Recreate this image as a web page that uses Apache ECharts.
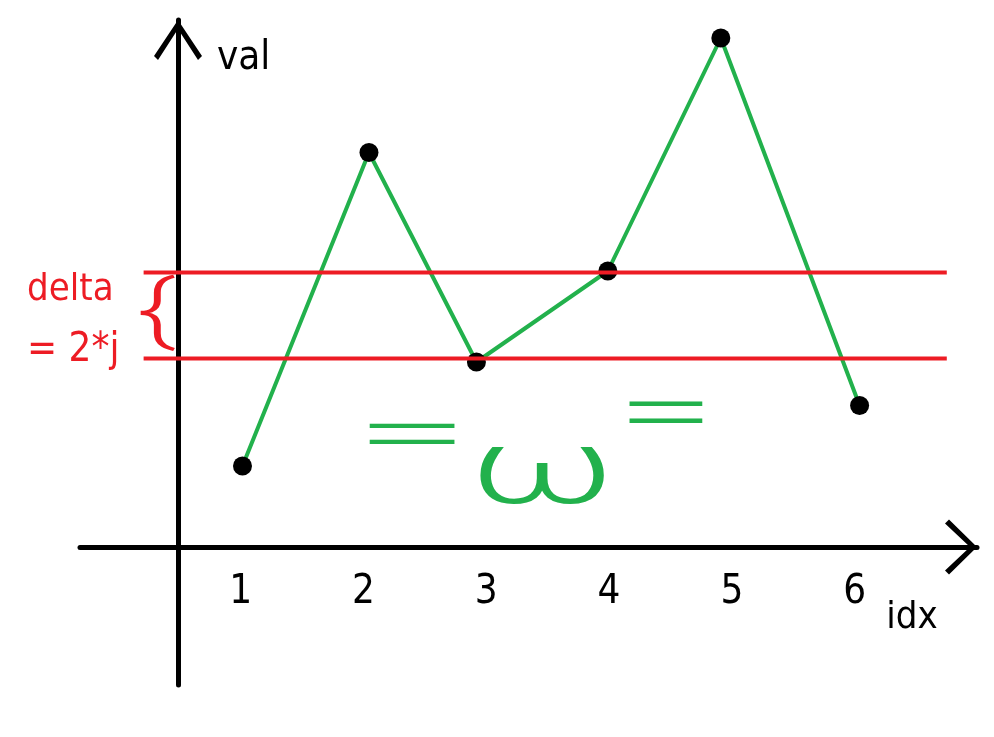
<!DOCTYPE html>
<html>
<head>
<meta charset="utf-8">
<script src="https://cdn.jsdelivr.net/npm/echarts@6/dist/echarts.min.js"></script>
<style>html,body{margin:0;padding:0;background:#fff;}#c{width:994px;height:737px;}</style>
</head>
<body>
<div id="c"></div>
<script>
// ---- data ----
const idxValues = [1.015, 2.045, 2.92, 3.99, 4.91, 6.04];   // x position of each dot
const valValues = [1.62, 7.89, 3.70, 5.52, 10.18, 2.83];    // height of each dot
const xTickLabels = [1, 2, 3, 4, 5, 6];
const deltaLevels = [5.49, 3.77];          // the two red horizontal lines
const deltaLineSpan = [0.21, 6.75];        // x extent of the red lines
const xName = 'idx';
const yName = 'val';
const annotationTop = 'delta';
const annotationBottom = '= 2*j';

const RED = '#ED1C24';
const GREEN = '#22B14C';
const FONT = "'Liberation Sans Narrow', 'DejaVu Sans Condensed', 'Liberation Sans', sans-serif";
const THIN = "'Roboto', 'Lato', 'DejaVu Sans', sans-serif";

const chart = echarts.init(document.getElementById('c'), null, {renderer: 'canvas'});

const lineSeries = {
  type: 'line',
  data: idxValues.map((x, i) => [x, valValues[i]]),
  lineStyle: {color: GREEN, width: 4},
  itemStyle: {color: '#000'},
  symbol: 'circle',
  symbolSize: 19,
  showSymbol: true,
  z: 3
};

const redSeries = deltaLevels.map(v => ({
  type: 'line',
  data: [[deltaLineSpan[0], v], [deltaLineSpan[1], v]],
  lineStyle: {color: RED, width: 4},
  showSymbol: false,
  symbol: 'none',
  z: 10,
  silent: true
}));

chart.setOption({
  animation: false,
  backgroundColor: '#fff',
  grid: {left: 80, right: 17, top: 20, bottom: 52, containLabel: false, outerBoundsMode: 'none'},
  xAxis: {
    type: 'value',
    min: -0.308,
    max: 6.996,
    name: xName,
    nameLocation: 'end',
    nameGap: -65,
    nameTextStyle: {fontSize: 38, color: '#000', fontFamily: FONT, align: 'center', verticalAlign: 'top', padding: [52, 0, 0, 0]},
    axisLine: {
      show: true, onZero: true,
      lineStyle: {color: '#000', width: 5},
      symbol: ['none', 'path://M27.5,0 L55,28 L51,32 L27.5,7 L4,32 L0,28 Z'],
      symbolSize: [55, 32],
      symbolOffset: [0, -16]
    },
    axisTick: {show: false},
    splitLine: {show: false},
    axisLabel: {
      show: true,
      customValues: xTickLabels,
      fontSize: 40,
      color: '#000',
      fontFamily: FONT,
      margin: -112
    }
  },
  yAxis: {
    type: 'value',
    min: -2.76,
    max: 10.54,
    position: 'left',
    offset: -98,
    name: yName,
    nameLocation: 'end',
    nameGap: -19,
    nameTextStyle: {fontSize: 40, color: '#000', fontFamily: FONT, align: 'left', verticalAlign: 'top', padding: [0, 0, 0, 39]},
    axisLine: {
      show: true, onZero: false,
      lineStyle: {color: '#000', width: 5},
      symbol: ['none', 'path://M24,0 L48,36 L44,40 L24,9 L4,40 L0,36 Z'],
      symbolSize: [48, 40],
      symbolOffset: [0, -20]
    },
    axisTick: {show: false},
    splitLine: {show: false},
    axisLabel: {show: false}
  },
  series: [lineSeries].concat(redSeries),
  graphic: [
    {type: 'text', left: 27, top: 271, z: 20, style: {text: annotationTop, fontSize: 38, fill: RED, fontFamily: FONT}},
    {type: 'text', left: 27, top: 331, z: 20, style: {text: annotationBottom, fontSize: 40, fill: RED, fontFamily: FONT}},
    {type: 'text', x: 156, y: 316, scaleX: 1.5, z: 20, style: {text: '{', fontSize: 78, fill: RED, fontFamily: THIN, fontWeight: 300, align: 'center', verticalAlign: 'middle'}},
    {type: 'text', x: 412, y: 440, scaleX: 2.6, z: 20, style: {text: '=', fontSize: 80, fill: GREEN, fontFamily: THIN, fontWeight: 300, align: 'center', verticalAlign: 'middle'}},
    {type: 'text', x: 542, y: 477, scaleX: 1.7, z: 20, style: {text: 'ω', fontSize: 105, fill: GREEN, fontFamily: THIN, fontWeight: 300, align: 'center', verticalAlign: 'middle'}},
    {type: 'text', x: 666, y: 419, scaleX: 2.1, z: 20, style: {text: '=', fontSize: 85, fill: GREEN, fontFamily: THIN, fontWeight: 300, align: 'center', verticalAlign: 'middle'}}
  ]
});
</script>
</body>
</html>
